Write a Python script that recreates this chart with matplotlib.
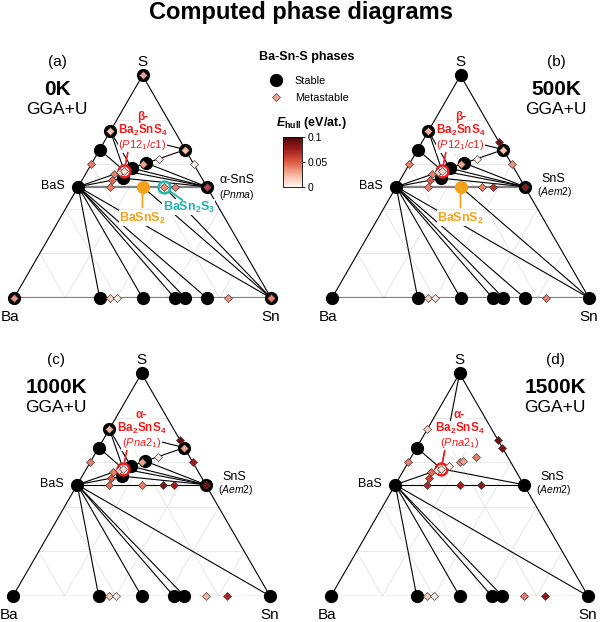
import numpy as np
import matplotlib
matplotlib.use("Agg")
import matplotlib.pyplot as plt
from matplotlib.lines import Line2D
from matplotlib.colors import LinearSegmentedColormap, Normalize
from matplotlib.cm import ScalarMappable

plt.rcParams['font.family'] = ['Liberation Sans', 'DejaVu Sans']
plt.rcParams['mathtext.fontset'] = 'custom'
plt.rcParams['mathtext.rm'] = 'Liberation Sans'
plt.rcParams['mathtext.it'] = 'Liberation Sans:italic'
plt.rcParams['mathtext.bf'] = 'Liberation Sans:bold'
HAS_BFIT = 'mathtext.bfit' in plt.rcParams
if HAS_BFIT:
    plt.rcParams['mathtext.bfit'] = 'Liberation Sans:italic:bold'

H = np.sqrt(3) / 2

# atom counts (Ba, Sn, S)
PHASES = {
    "Ba": (1, 0, 0), "Sn": (0, 1, 0), "S": (0, 0, 1),
    "BaS": (1, 0, 1), "Ba2S3": (2, 0, 3), "BaS2": (1, 0, 2), "BaS3": (1, 0, 3),
    "SnS": (0, 1, 1), "Sn2S3": (0, 2, 3), "SnS2": (0, 1, 2), "Sn3S7": (0, 3, 7),
    "Ba2Sn": (2, 1, 0), "Ba5Sn3": (5, 3, 0), "Ba3Sn2": (3, 2, 0), "BaSn": (1, 1, 0),
    "Ba3Sn5": (3, 5, 0), "BaSn2": (1, 2, 0), "BaSn3": (1, 3, 0), "BaSn5": (1, 5, 0),
    "Ba2SnS4": (2, 1, 4), "Ba4Sn2S7": (4, 2, 7), "Ba3Sn2S7": (3, 2, 7),
    "Ba6Sn7S20": (6, 7, 20), "BaSnS3": (1, 1, 3), "BaSn2S5": (1, 2, 5),
    "Ba3SnS5": (3, 1, 5), "Ba6Sn2S9": (6, 2, 9), "Ba7Sn3S13": (7, 3, 13),
    "BaSnS2": (1, 1, 2), "BaSn2S3": (1, 2, 3), "BaSn3S4": (1, 3, 4),
    "Ba3SnS4": (3, 1, 4),
}

TEMPS = ["0K", "500K", "1000K", "1500K"]
LETTERS = ["(a)", "(b)", "(c)", "(d)"]

STABLE_0K = ["Ba", "Sn", "S", "BaS", "BaS2", "BaS3", "SnS", "SnS2", "Ba2Sn", "BaSn",
             "Ba3Sn5", "BaSn2", "BaSn3", "Ba2SnS4", "Ba4Sn2S7", "Ba3Sn2S7",
             "Ba6Sn7S20", "BaSnS2"]
STABLE_500K = list(STABLE_0K)
STABLE_1000K = [p for p in STABLE_0K if p not in ("BaSnS2", "BaSn3")]
STABLE_1500K = ["Ba", "Sn", "S", "BaS", "BaS2", "SnS", "Ba2Sn", "BaSn", "Ba3Sn5",
                "BaSn2", "Ba2SnS4"]

# metastable phases: E_hull in eV/atom
META_0K = {"S": 0.03, "Ba": 0.035, "Sn": 0.04, "BaS3": 0.02, "SnS2": 0.02, "SnS": 0.06,
           "Ba2S3": 0.04, "Sn2S3": 0.004, "BaSn2S5": 0.004, "BaSnS3": 0.03,
           "Ba3SnS5": 0.04, "Ba6Sn2S9": 0.045, "Ba7Sn3S13": 0.015, "Ba2SnS4": 0.01,
           "Ba3SnS4": 0.04, "BaSn2S3": 0.035, "BaSn3S4": 0.04, "Ba5Sn3": 0.015,
           "Ba3Sn2": 0.004, "BaSn5": 0.035}
META_500K = {"BaS3": 0.025, "Sn3S7": 0.09, "SnS2": 0.02, "Sn2S3": 0.035,
             "BaSn2S5": 0.004, "BaSnS3": 0.03, "Ba2S3": 0.04, "Ba3SnS5": 0.04,
             "Ba6Sn2S9": 0.05, "Ba7Sn3S13": 0.015, "Ba2SnS4": 0.01, "Ba3SnS4": 0.04,
             "BaSn2S3": 0.04, "BaSn3S4": 0.065, "SnS": 0.08, "Ba5Sn3": 0.015,
             "Ba3Sn2": 0.004, "BaSn5": 0.04}
META_1000K = {"BaS3": 0.025, "Ba2S3": 0.04, "Sn3S7": 0.09, "SnS2": 0.03, "Sn2S3": 0.075,
              "BaSn2S5": 0.004, "BaSnS3": 0.03, "Ba3SnS5": 0.04, "Ba6Sn2S9": 0.05,
              "Ba7Sn3S13": 0.015, "Ba2SnS4": 0.01, "Ba3SnS4": 0.045, "BaSnS2": 0.04,
              "BaSn2S3": 0.085, "BaSn3S4": 0.075, "SnS": 0.09, "Ba5Sn3": 0.015,
              "Ba3Sn2": 0.004, "BaSn3": 0.025, "BaSn5": 0.07}
META_1500K = {"BaS3": 0.015, "Ba2S3": 0.04, "Ba3Sn2S7": 0.004, "BaSnS3": 0.035,
              "Ba6Sn7S20": 0.03, "BaSn2S5": 0.04, "Ba3SnS5": 0.045, "Ba6Sn2S9": 0.06,
              "Ba7Sn3S13": 0.012, "Ba2SnS4": 0.008, "Sn3S7": 0.09, "SnS2": 0.085,
              "Ba3SnS4": 0.07, "BaSnS2": 0.075, "BaSn2S3": 0.08, "Ba5Sn3": 0.015,
              "Ba3Sn2": 0.004, "BaSn3": 0.04, "BaSn5": 0.08}

TIES_UPPER = [("BaS", "SnS"), ("BaS", "Ba4Sn2S7"), ("BaS", "Ba2SnS4"),
              ("Ba4Sn2S7", "Ba2SnS4"), ("SnS", "Ba4Sn2S7"), ("SnS", "Ba2SnS4"),
              ("SnS", "Ba3Sn2S7"), ("SnS", "Ba6Sn7S20"), ("Ba2SnS4", "Ba3Sn2S7"),
              ("BaS2", "Ba2SnS4"), ("BaS3", "Ba2SnS4"), ("BaS3", "Ba3Sn2S7"),
              ("BaS3", "SnS2"), ("Ba3Sn2S7", "Ba6Sn7S20"), ("Ba6Sn7S20", "SnS2")]
TIES_LOWER_LOW_T = [("BaS", "Ba2Sn"), ("BaS", "BaSn"), ("BaS", "Ba3Sn5"),
                    ("BaS", "BaSn2"), ("BaS", "BaSn3"), ("BaS", "Sn"), ("BaSnS2", "Sn")]
TIES_LOWER_HIGH_T = [("BaS", "Ba2Sn"), ("BaS", "BaSn"), ("BaS", "Ba3Sn5"),
                     ("BaS", "BaSn2"), ("BaS", "Sn")]
TIES_0K = TIES_LOWER_LOW_T + [("BaSn2S3", "Sn")] + TIES_UPPER
TIES_500K = TIES_LOWER_LOW_T + TIES_UPPER
TIES_1000K = TIES_LOWER_HIGH_T + TIES_UPPER
TIES_1500K = TIES_LOWER_HIGH_T + [("BaS", "SnS"), ("BaS", "Ba2SnS4"), ("BaS2", "Ba2SnS4"),
                                  ("S", "Ba2SnS4"), ("Ba2SnS4", "SnS")]

STABLE = [STABLE_0K, STABLE_500K, STABLE_1000K, STABLE_1500K]
META = [META_0K, META_500K, META_1000K, META_1500K]
TIES = [TIES_0K, TIES_500K, TIES_1000K, TIES_1500K]

# layout (pixels): Ba corner of each triangle, triangle side
W, HPX = 602, 622
ORIGINS = [(14, 298), (332, 298), (13, 596), (331, 596)]
SIDE = 257
RIGHT_SIDE = [False, True, False, True]
GRAY_LINES = [True, True, False, False]

RED, ORANGE, CYAN = "#ee1d1d", "#f5a21b", "#22b5ad"
GRID = "#e4e4e4"
cmap = LinearSegmentedColormap.from_list(
    "ehull", ["#fff8f3", "#f6b59c", "#df5a43", "#a01d1c", "#4a0707"])
norm = Normalize(0, 0.1)


def xy(name):
    c = np.asarray(PHASES[name], float)
    c = c / c.sum()
    return c[1] + 0.5 * c[2], H * c[2]


def frac_xy(c):
    return c[1] + 0.5 * c[2], H * c[2]


def draw_panel(fig, i):
    x0, yb = ORIGINS[i]
    ax = fig.add_axes([x0 / W, (HPX - yb) / HPX, SIDE / W, SIDE * H / HPX])
    ax.set_xlim(0, 1)
    ax.set_ylim(0, H)
    ax.set_axis_off()

    # faint composition grid
    for k in range(3):
        j, l = [m for m in range(3) if m != k]
        for t in (0.2, 0.4, 0.6, 0.8):
            p = np.zeros(3); p[k] = t; p[j] = 1 - t
            q = np.zeros(3); q[k] = t; q[l] = 1 - t
            (xa, ya), (xb, yb2) = frac_xy(p), frac_xy(q)
            ax.plot([xa, xb], [ya, yb2], color=GRID, lw=0.6, zorder=0)

    gray = dict(color="#808080", lw=1.6, zorder=1.5, solid_capstyle="butt")
    black = dict(color="black", lw=0.8, zorder=2)
    for a, b in [("Ba", "S"), ("Sn", "S")]:
        (xa, ya), (xb, yb2) = xy(a), xy(b)
        ax.plot([xa, xb], [ya, yb2], **black)
    (xa, ya), (xb, yb2) = xy("Ba"), xy("Sn")
    ax.plot([xa, xb], [ya, yb2], **(gray if GRAY_LINES[i] else black))
    for a, b in TIES[i]:
        (xa, ya), (xb, yb2) = xy(a), xy(b)
        style = gray if (GRAY_LINES[i] and (a, b) == ("BaS", "SnS")) else black
        ax.plot([xa, xb], [ya, yb2], **style)

    for name in STABLE[i]:
        c = ORANGE if (name == "BaSnS2" and i < 2) else "black"
        px, py = xy(name)
        ax.plot(px, py, "o", ms=8.5, mfc=c, mec=c, zorder=4, clip_on=False)

    px, py = xy("Ba2SnS4")
    ax.plot(px, py, "o", ms=8.5, mfc="white", mec=RED, mew=1.8, zorder=5)
    if i == 0:
        px, py = xy("BaSn2S3")
        ax.plot(px, py, "o", ms=8.5, mfc="white", mec=CYAN, mew=1.8, zorder=5)

    for name, e in META[i].items():
        px, py = xy(name)
        ax.plot(px, py, "D", ms=3.6, mfc=cmap(norm(e)), mec="#3a3a3a", mew=0.45,
                zorder=6, clip_on=False)

    # texts
    side = RIGHT_SIDE[i]
    xl = 0.872 if side else 0.168
    ax.text(0.5, 0.918, "S", ha="center", va="center", fontsize=11)
    ax.text(xl, 0.918, LETTERS[i], ha="center", va="center", fontsize=11)
    ax.text(xl, 0.811, TEMPS[i], ha="center", va="center", fontsize=15, weight="bold")
    ax.text(xl, 0.735, "GGA+U", ha="center", va="center", fontsize=12.5)
    ax.text(-0.016, -0.074, "Ba", ha="center", va="center", fontsize=11)
    ax.text(1.0, -0.074, "Sn", ha="center", va="center", fontsize=11)
    ax.text(0.197, 0.436, "BaS", ha="right", va="center", fontsize=9)
    if i == 0:
        ax.text(0.868, 0.458, "\u03b1-SnS", ha="center", va="center", fontsize=9)
        ax.text(0.868, 0.402, r"($\mathit{Pnma}$)", ha="center", va="center",
                fontsize=7.5)
    else:
        ax.text(0.862, 0.464, "SnS", ha="center", va="center", fontsize=9)
        ax.text(0.866, 0.411, r"($\mathit{Aem2}$)", ha="center", va="center",
                fontsize=7.5)

    wbox = dict(facecolor="white", edgecolor="none", pad=0.3)
    greek = "\u03b2-" if i < 2 else "\u03b1-"
    sg = r"($\mathit{P}$12$_1$/$\mathit{c}$1)" if i < 2 else r"($\mathit{Pna}$2$_1$)"
    ax.text(0.5, 0.704, greek, ha="center", va="center", fontsize=8.5,
            weight="bold", color=RED, bbox=wbox, zorder=3)
    ax.text(0.5, 0.651, r"Ba$_\mathbf{2}$SnS$_\mathbf{4}$", ha="center", va="center",
            fontsize=8.5, weight="bold", color=RED, bbox=wbox, zorder=3)
    ax.text(0.5, 0.594, sg, ha="center", va="center", fontsize=8, color=RED,
            bbox=wbox, zorder=3)
    ax.annotate("", xy=xy("Ba2SnS4"), xytext=(0.443, 0.566),
                arrowprops=dict(arrowstyle="-", color=RED, lw=1.2,
                                shrinkA=0, shrinkB=5), zorder=3.5)
    if i < 2:
        ax.text(0.5, 0.31, r"BaSnS$_\mathbf{2}$", ha="center", va="center",
                fontsize=9, weight="bold", color=ORANGE, bbox=wbox, zorder=3)
        ax.annotate("", xy=xy("BaSnS2"), xytext=(0.5, 0.352),
                    arrowprops=dict(arrowstyle="-", color=ORANGE, lw=1.3,
                                    shrinkA=0, shrinkB=4), zorder=3.5)
    if i == 0:
        ax.text(0.68, 0.354, r"BaSn$_\mathbf{2}$S$_\mathbf{3}$", ha="center",
                va="center", fontsize=9, weight="bold", color=CYAN, bbox=wbox,
                zorder=3)
        ax.annotate("", xy=xy("BaSn2S3"), xytext=(0.655, 0.381),
                    arrowprops=dict(arrowstyle="-", color=CYAN, lw=1.3,
                                    shrinkA=0, shrinkB=5), zorder=3.5)
    return ax


fig = plt.figure(figsize=(W / 100, HPX / 100), dpi=100)
fig.text(0.5, 1 - 12 / HPX, "Computed phase diagrams", ha="center", va="center",
         fontsize=17, weight="bold")
for i in range(4):
    draw_panel(fig, i)

handles = [Line2D([], [], ls="none", marker="o", ms=8.5, mfc="black", mec="black"),
           Line2D([], [], ls="none", marker="D", ms=3.6, mfc=cmap(norm(0.03)),
                  mec="#3a3a3a", mew=0.45)]
fig.legend(handles, ["Stable", "Metastable"], title="Ba-Sn-S phases",
           loc="upper left", bbox_to_anchor=(259 / W, 1 - 51 / HPX),
           frameon=False, fontsize=7.8,
           title_fontproperties={"weight": "bold", "size": 9},
           handletextpad=0.75, labelspacing=0.7, borderpad=0, borderaxespad=0)
leg = fig.legends[0]
leg._legend_box.sep = 9

ehull = r"$\mathbfit{E}_\mathbf{hull}$" if HAS_BFIT else r"$\mathbf{E}_\mathbf{hull}$"
fig.text(311 / W, 1 - 123 / HPX, ehull + " (eV/at.)", ha="center", va="center",
         fontsize=9, weight="bold")
cax = fig.add_axes([283 / W, 1 - 187 / HPX, 19 / W, 50 / HPX])
cb = fig.colorbar(ScalarMappable(norm=norm, cmap=cmap), cax=cax, ticks=[0, 0.05, 0.1])
cb.ax.set_yticklabels(["0", "0.05", "0.1"])
cb.ax.tick_params(labelsize=7.5, length=2.5, width=0.6, pad=1.5)
cb.outline.set_linewidth(0.6)

fig.savefig("out.png", dpi=100)
